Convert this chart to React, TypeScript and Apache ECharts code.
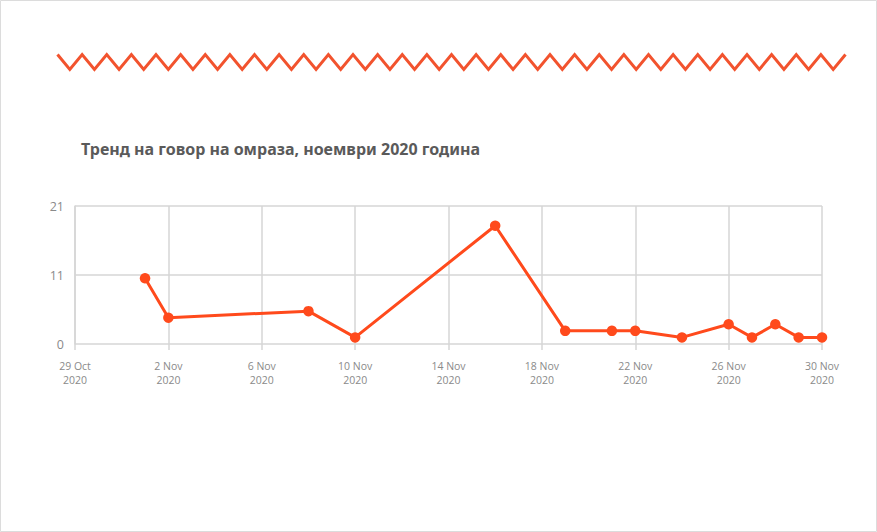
import React, { useEffect, useRef } from "react";
import * as echarts from "echarts";

const TITLE = "Тренд на говор на омраза, ноември 2020 година";
const START_DATE = "2020-10-29";
const END_DATE = "2020-11-30";
const dates = [
  "2020-11-01", "2020-11-02", "2020-11-08", "2020-11-10", "2020-11-16",
  "2020-11-19", "2020-11-21", "2020-11-22", "2020-11-24", "2020-11-26",
  "2020-11-27", "2020-11-28", "2020-11-29", "2020-11-30",
];
const values = [10, 4, 5, 1, 18, 2, 2, 2, 1, 3, 1, 3, 1, 1];
const monthNames = ["Jan", "Feb", "Mar", "Apr", "May", "Jun", "Jul", "Aug", "Sep", "Oct", "Nov", "Dec"];
const Y_MAX = 21;
const Y_INTERVAL = 10.5;
const X_INTERVAL_DAYS = 4;

const DAY = 86400000;
const t0 = Date.parse(START_DATE + "T00:00:00Z");
const dayIndex = (d: string) => Math.round((Date.parse(d + "T00:00:00Z") - t0) / DAY);

export default function App() {
  const ref = useRef<HTMLDivElement>(null);
  useEffect(() => {
    if (!ref.current) return;
    const chart = echarts.init(ref.current, null, { renderer: "svg" });
    // decorative zigzag
    const zig: number[][] = [];
    const x0 = 57.5, x1 = 845.5, segs = 64;
    for (let i = 0; i <= segs; i++) {
      zig.push([x0 + ((x1 - x0) * i) / segs, i % 2 === 0 ? 54.5 : 69.5]);
    }
    chart.setOption({
      animation: false,
      backgroundColor: "#ffffff",
      title: {
        text: TITLE,
        left: 81,
        top: 141,
        padding: 0,
        textStyle: {
          fontFamily: "Noto Sans",
          fontWeight: "bold",
          fontSize: 16,
          color: "#5a5a5a",
        },
      },
      graphic: [
        {
          type: "rect",
          shape: { x: 0.5, y: 0.5, width: 876, height: 531 },
          style: { fill: "none", stroke: "#dcdcdc", lineWidth: 1 },
          silent: true,
        },
        {
          type: "polyline",
          shape: { points: zig },
          style: { stroke: "#f2532e", lineWidth: 3, fill: "none", lineJoin: "miter" },
          silent: true,
        },
      ],
      grid: { left: 75, right: 55, top: 206, bottom: 188, containLabel: false },
      xAxis: {
        type: "value",
        min: 0,
        max: dayIndex(END_DATE),
        interval: X_INTERVAL_DAYS,
        axisLine: { show: false },
        axisTick: { show: true, length: 6, lineStyle: { color: "#d6d6d6", width: 1.5 } },
        splitLine: { show: true, lineStyle: { color: "#d6d6d6", width: 1.5 } },
        axisLabel: {
          color: "#8a8a8a",
          fontFamily: "Open Sans",
          fontSize: 10.5,
          lineHeight: 14,
          margin: 15,
          formatter: (v: number) => {
            const d = new Date(t0 + v * DAY);
            return `${d.getUTCDate()} ${monthNames[d.getUTCMonth()]}\n${d.getUTCFullYear()}`;
          },
        },
      },
      yAxis: {
        type: "value",
        min: 0,
        max: Y_MAX,
        interval: Y_INTERVAL,
        axisLine: { show: true, lineStyle: { color: "#d6d6d6", width: 1.5 } },
        axisTick: { show: false },
        splitLine: { show: true, lineStyle: { color: "#d6d6d6", width: 1.5 } },
        axisLabel: {
          color: "#8a8a8a",
          fontFamily: "Open Sans",
          fontSize: 12.5,
          margin: 11,
          formatter: (v: number) => String(Math.round(v)),
        },
      },
      series: [
        {
          type: "line",
          data: dates.map((d, i) => [dayIndex(d), values[i]]),
          symbol: "circle",
          symbolSize: 10.5,
          lineStyle: { color: "#ff4a1c", width: 3 },
          itemStyle: { color: "#ff4a1c" },
        },
      ],
    });
    return () => chart.dispose();
  }, []);
  return (
    <div
      ref={ref}
      style={{ position: "fixed", left: 0, top: 0, width: 877, height: 532 }}
    />
  );
}
